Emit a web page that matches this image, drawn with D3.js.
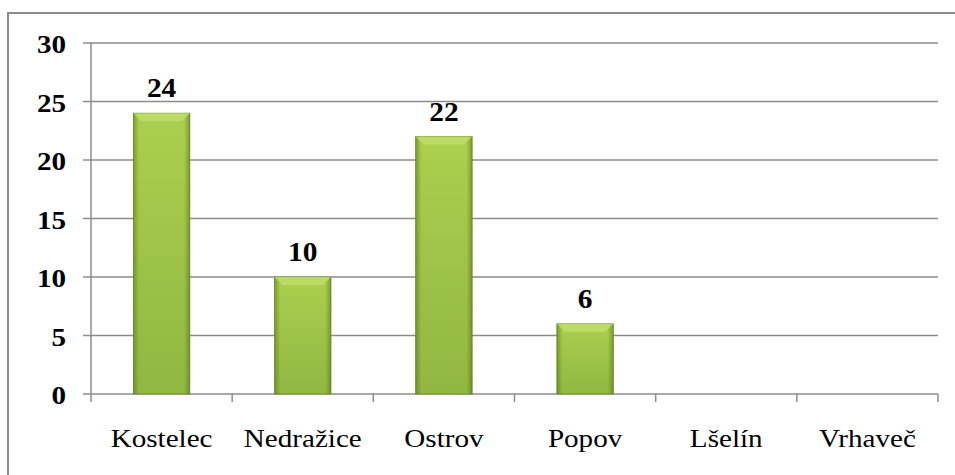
<!DOCTYPE html>
<html>
<head>
<meta charset="utf-8">
<script src="https://cdn.jsdelivr.net/npm/d3@7"></script>
</head>
<body style="margin:0">
<script>
// chart data
var categories = ["Kostelec", "Nedražice", "Ostrov", "Popov", "Lšelín", "Vrhaveč"];
var values = [24, 10, 22, 6, 0, 0];
var yTicks = [0, 5, 10, 15, 20, 25, 30];

var width = 955, height = 475;
var margin = {top: 43, right: 17, bottom: 81, left: 91};

var svg = d3.select("body").append("svg")
  .attr("width", width)
  .attr("height", height);

// outer chart border
svg.append("rect")
  .attr("x", 8).attr("y", 13)
  .attr("width", 960).attr("height", 480)
  .attr("fill", "none")
  .attr("stroke", "#8c8c8c")
  .attr("stroke-width", 2);

var x = d3.scaleBand()
  .domain(categories)
  .range([margin.left, width - margin.right])
  .paddingInner(0.6).paddingOuter(0.3);

var y = d3.scaleLinear()
  .domain([0, 30])
  .range([height - margin.bottom, margin.top]);

// gradients for the bars
var defs = svg.append("defs");
var gv = defs.append("linearGradient").attr("id", "gv")
  .attr("x1", 0).attr("y1", 0).attr("x2", 0).attr("y2", 1);
gv.append("stop").attr("offset", "0%").attr("stop-color", "#abcf4d");
gv.append("stop").attr("offset", "100%").attr("stop-color", "#91b743");
var gh = defs.append("linearGradient").attr("id", "gh")
  .attr("x1", 0).attr("y1", 0).attr("x2", 1).attr("y2", 0);
gh.append("stop").attr("offset", "0%").attr("stop-color", "#4a6a10").attr("stop-opacity", 0.5);
gh.append("stop").attr("offset", "10%").attr("stop-color", "#4a6a10").attr("stop-opacity", 0.0);
gh.append("stop").attr("offset", "90%").attr("stop-color", "#4a6a10").attr("stop-opacity", 0.0);
gh.append("stop").attr("offset", "100%").attr("stop-color", "#4a6a10").attr("stop-opacity", 0.5);

// gridlines
svg.append("g")
  .selectAll("line")
  .data(yTicks.slice(1))
  .enter().append("line")
  .attr("x1", margin.left).attr("x2", width - margin.right)
  .attr("y1", function(d) { return y(d); })
  .attr("y2", function(d) { return y(d); })
  .attr("stroke", "#8c8c8c")
  .attr("stroke-width", 1.5);

// y axis line and ticks
svg.append("line")
  .attr("x1", margin.left).attr("x2", margin.left)
  .attr("y1", y(30)).attr("y2", y(0))
  .attr("stroke", "#8c8c8c").attr("stroke-width", 1.5);
svg.selectAll(".ytk")
  .data(yTicks)
  .enter().append("line")
  .attr("class", "ytk")
  .attr("x1", margin.left - 8).attr("x2", margin.left)
  .attr("y1", function(d) { return y(d); })
  .attr("y2", function(d) { return y(d); })
  .attr("stroke", "#8c8c8c").attr("stroke-width", 1.5);
// labels look a little stretched sideways in the original
svg.selectAll(".ylab")
  .data(yTicks)
  .enter().append("text")
  .attr("class", "ylab")
  .attr("transform", function(d) { return "translate(66," + (y(d) + 10) + ") scale(1.12,1)"; })
  .attr("text-anchor", "end")
  .attr("font-family", "Times New Roman")
  .attr("font-size", 26)
  .attr("font-weight", "bold")
  .text(function(d) { return d; });

// x axis with ticks at category boundaries
svg.append("line")
  .attr("x1", margin.left).attr("x2", width - margin.right)
  .attr("y1", y(0)).attr("y2", y(0))
  .attr("stroke", "#8c8c8c").attr("stroke-width", 1.5);
var step = (width - margin.right - margin.left) / categories.length;
svg.selectAll(".xtk")
  .data(d3.range(categories.length + 1))
  .enter().append("line")
  .attr("class", "xtk")
  .attr("x1", function(i) { return margin.left + i * step; })
  .attr("x2", function(i) { return margin.left + i * step; })
  .attr("y1", y(0)).attr("y2", y(0) + 8)
  .attr("stroke", "#8c8c8c").attr("stroke-width", 1.5);
svg.selectAll(".cat")
  .data(categories)
  .enter().append("text")
  .attr("class", "cat")
  .attr("transform", function(d) {
    return "translate(" + (x(d) + x.bandwidth() / 2) + "," + (y(0) + 53) + ") scale(1.12,1)";
  })
  .attr("text-anchor", "middle")
  .attr("font-family", "Times New Roman")
  .attr("font-size", 26)
  .text(function(d) { return d; });

// bars
var bars = svg.append("g")
  .selectAll("g")
  .data(categories.map(function(c, i) { return {name: c, value: values[i]}; }).filter(function(d) { return d.value > 0; }))
  .enter().append("g");

bars.append("rect")
  .attr("x", function(d) { return x(d.name); })
  .attr("y", function(d) { return y(d.value); })
  .attr("width", x.bandwidth())
  .attr("height", function(d) { return y(0) - y(d.value); })
  .attr("fill", "url(#gv)")
  .attr("stroke", "#6f8f2c")
  .attr("stroke-width", 0.8);
bars.append("rect")
  .attr("x", function(d) { return x(d.name); })
  .attr("y", function(d) { return y(d.value); })
  .attr("width", x.bandwidth())
  .attr("height", function(d) { return y(0) - y(d.value); })
  .attr("fill", "url(#gh)");
// top bevel
bars.append("path")
  .attr("d", function(d) {
    var x0 = x(d.name), x1 = x0 + x.bandwidth(), t = y(d.value), b = 8;
    return "M" + x0 + "," + t + "L" + x1 + "," + t + "L" + (x1 - b) + "," + (t + b) +
      "L" + (x0 + b) + "," + (t + b) + "Z";
  })
  .attr("fill", "#c0de6e")
  .attr("opacity", 0.8);

// value labels
bars.append("text")
  .attr("transform", function(d) {
    return "translate(" + (x(d.name) + x.bandwidth() / 2) + "," + (y(d.value) - 16) + ") scale(1.05,1)";
  })
  .attr("text-anchor", "middle")
  .attr("font-family", "Times New Roman")
  .attr("font-size", 28)
  .attr("font-weight", "bold")
  .text(function(d) { return d.value; });
</script>
</body>
</html>
